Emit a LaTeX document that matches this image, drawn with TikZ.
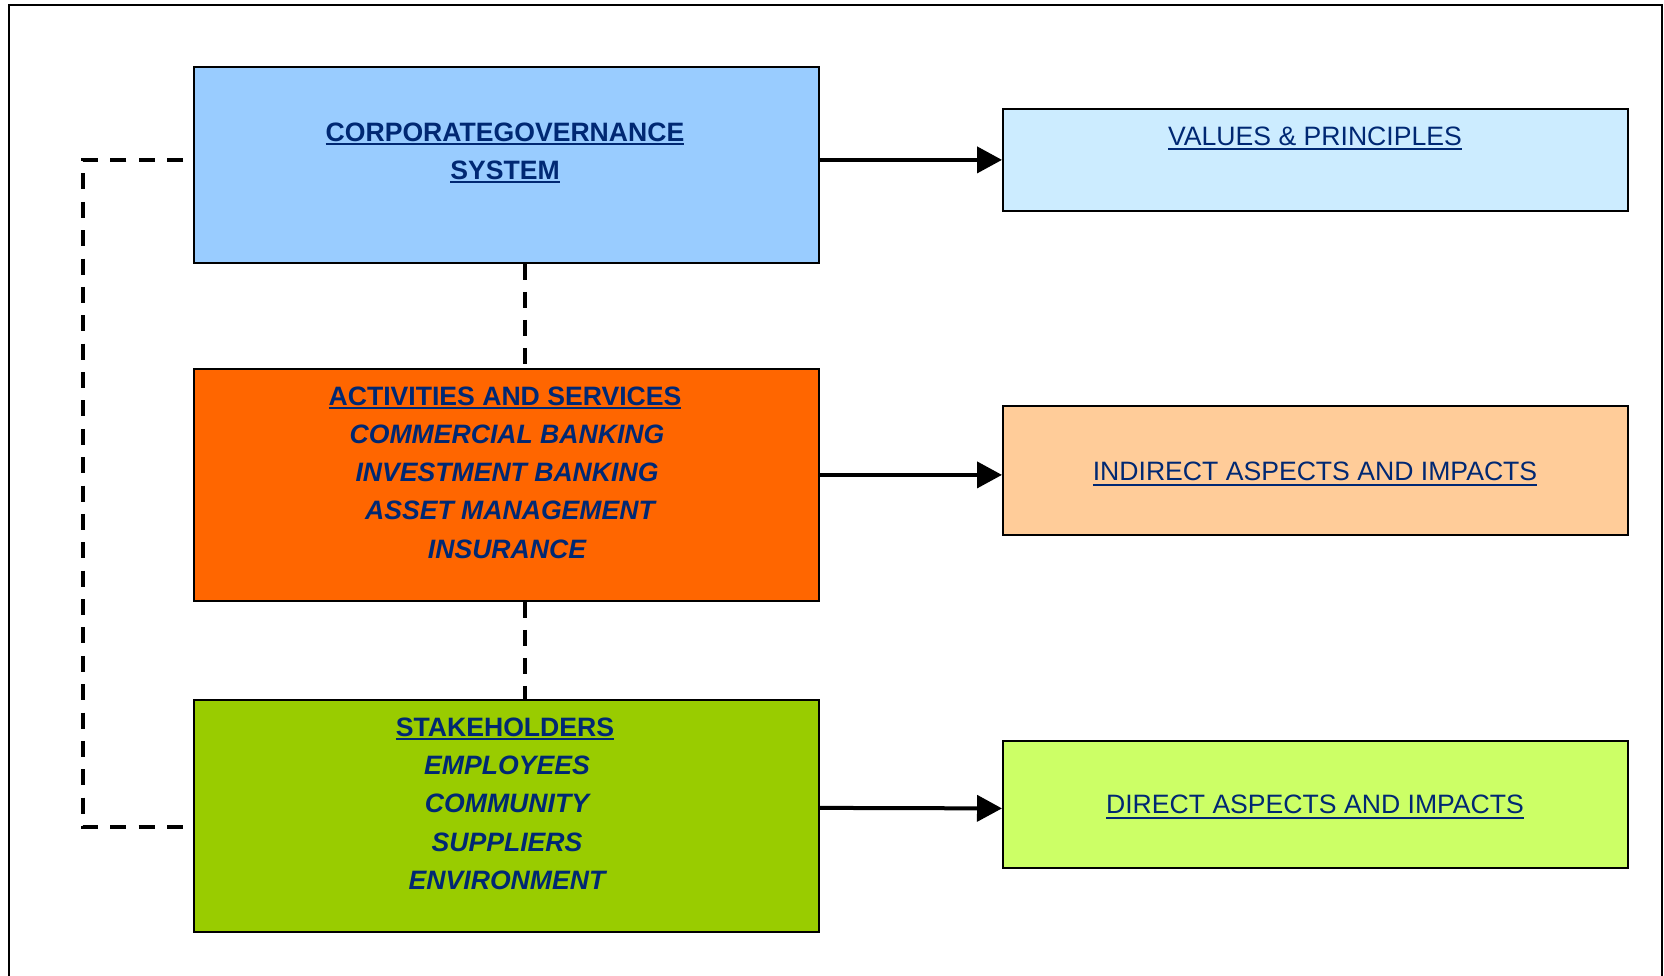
\documentclass[tikz,border=0pt]{standalone}
\usepackage{fontspec}
\setmainfont{Liberation Sans}
\usetikzlibrary{arrows.meta,calc}

\definecolor{txtblue}{RGB}{0,40,115}
\definecolor{govblue}{RGB}{153,204,255}
\definecolor{valblue}{RGB}{204,236,255}
\definecolor{actorange}{RGB}{255,102,0}
\definecolor{indpeach}{RGB}{255,204,153}
\definecolor{stkgreen}{RGB}{153,204,0}
\definecolor{dirgreen}{RGB}{204,255,102}

% underlined text: rule depth, rule thickness, text
\newcommand{\ulword}[3]{\setbox0\hbox{#3}\rlap{\rule[-#1]{\wd0}{#2}}\box0}
\newcommand{\headul}[1]{\ulword{3.6pt}{2pt}{#1}}
\newcommand{\plainul}[1]{\ulword{5pt}{2pt}{#1}}

\tikzset{
  x=1pt, y=-1pt,
  panel/.style={draw=black, line width=1.8pt, anchor=north west, inner sep=0pt},
  caption/.style={text=txtblue, font=\fontsize{26.6}{38}\selectfont, inner sep=0pt, anchor=base},
  headline/.style={caption, font=\fontsize{26.6}{38}\selectfont\bfseries},
  itemline/.style={caption, font=\fontsize{26.6}{38}\selectfont\bfseries\itshape},
  flow/.style={line width=4pt, -{Triangle[length=25pt,width=26pt]}},
  link/.style={line width=4pt, dash pattern=on 16pt off 12pt},
  looplink/.style={line width=4pt, dash pattern=on 16pt off 12.37pt}
}

\begin{document}
\begin{tikzpicture}
\useasboundingbox (0,0) rectangle (1664,976);

% outer frame, open at the bottom
\draw[line width=2pt] (9,976) -- (9,5) -- (1662,5) -- (1662,976);

% left column
\node[panel, fill=govblue, minimum width=625pt, minimum height=196pt] (cgs) at (193,66) {};
\node[panel, fill=actorange, minimum width=625pt, minimum height=232pt] (act) at (193,368) {};
\node[panel, fill=stkgreen, minimum width=625pt, minimum height=232pt] (stk) at (193,699) {};

% right column
\node[panel, fill=valblue, minimum width=625pt, minimum height=102pt] (val) at (1002,108) {};
\node[panel, fill=indpeach, minimum width=625pt, minimum height=129pt] (ind) at (1002,405) {};
\node[panel, fill=dirgreen, minimum width=625pt, minimum height=127pt] (dir) at (1002,740) {};

% texts of the left column
\node[headline] (cgs1) at (505,141.5) {\headul{CORPORATEGOVERNANCE}};
\node[headline] (cgs2) at (505,179.5) {\headul{SYSTEM}};

\node[headline] (act1) at (505,405.5) {\headul{ACTIVITIES AND SERVICES}};
\node[itemline] (act2) at (507,443.5) {COMMERCIAL BANKING};
\node[itemline] (act3) at (507,481.5) {INVESTMENT BANKING};
\node[itemline] (act4) at (510,519.5) {ASSET MANAGEMENT};
\node[itemline] (act5) at (507,558) {INSURANCE};

\node[headline] (stk1) at (505,736.5) {\headul{STAKEHOLDERS}};
\node[itemline] (stk2) at (507,774.5) {EMPLOYEES};
\node[itemline] (stk3) at (507,812.5) {COMMUNITY};
\node[itemline] (stk4) at (507,851) {SUPPLIERS};
\node[itemline] (stk5) at (507,889) {ENVIRONMENT};

% texts of the right column
\node[caption] (val1) at (1315,145.5) {\plainul{VALUES \& PRINCIPLES}};
\node[caption] (ind1) at (1315,480.5) {\plainul{INDIRECT ASPECTS AND IMPACTS}};
\node[caption] (dir1) at (1315,813.5) {\plainul{DIRECT ASPECTS AND IMPACTS}};

% arrows to the aspects
\draw[flow] (cgs.east |- val.west) -- (val.west);
\draw[flow] ([yshift=-4.5pt]act.east |- ind.west) -- ([yshift=-4.5pt]ind.west);
\draw[flow] ([yshift=-3.5pt]stk.east |- dir.west) -- ([yshift=-4pt]dir.west);

% dashed links between the left boxes
\draw[link] ([xshift=19pt]cgs.south) -- ([xshift=19pt]act.north);
\draw[link] ([xshift=19pt]act.south) -- ([xshift=19pt]stk.north);

\coordinate (loopA) at (183,160);
\coordinate (loopB) at (83,160);
\coordinate (loopC) at (83,827);
\coordinate (loopD) at (183,827);
\draw[looplink] (loopA) -- (loopB) -- (loopC) -- (loopD);
\end{tikzpicture}
\end{document}
